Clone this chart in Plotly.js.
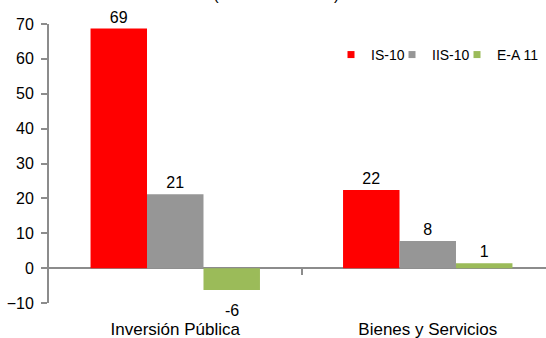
<!DOCTYPE html>
<html>
<head>
<meta charset="utf-8">
<script src="https://cdn.plot.ly/plotly-3.0.1.min.js"></script>
<style>html,body{margin:0;padding:0;background:#fff;}#chart{width:546px;height:338px;}</style>
</head>
<body>
<div id="chart"></div>
<script>
const categories = ["Inversión Pública", "Bienes y Servicios"];
const seriesNames = ["IS-10", "IIS-10", "E-A 11"];
const valuesIS10 = [68.7, 22.4];
const valuesIIS10 = [21.2, 7.8];
const valuesEA11 = [-6.3, 1.4];
const yTickValues = [-10, 0, 10, 20, 30, 40, 50, 60, 70];
const titleText = "(Variación % real)";

const colors = ["#FF0000", "#969696", "#9BBB59"];
const seriesValues = [valuesIS10, valuesIIS10, valuesEA11];
const font = "Liberation Sans, Arial, sans-serif";

const plotLeft = 49, plotWidth = 546 - 49;
const legendLeft = [331, 392, 457];
const legendNames = ["legend", "legend2", "legend3"];
const bargap = 0.329;
const barFrac = (1 - bargap) / seriesValues.length;

const traces = [];
const annotations = [];
seriesValues.forEach((vals, i) => {
  traces.push({
    type: "bar", x: categories, y: vals, name: seriesNames[i],
    marker: {color: colors[i]}, showlegend: false,
    texttemplate: vals.map(v => v < 0 ? "" : "%{y:.0f}"),
    textposition: "outside", cliponaxis: false,
    textfont: {family: font, size: 16, color: "#000"}
  });
  vals.forEach((v, j) => {
    if (v < 0) {
      annotations.push({
        xref: "x", yref: "y", x: j + (i - (seriesValues.length - 1) / 2) * barFrac, y: v,
        text: String(Math.round(v)), showarrow: false, xanchor: "center", yanchor: "top", yshift: -10,
        font: {family: font, size: 16, color: "#000"}
      });
    }
  });
});
seriesValues.forEach((vals, i) => {
  traces.push({
    type: "scatter", mode: "markers", x: [null], y: [null], name: seriesNames[i],
    marker: {symbol: "square", size: 7, color: colors[i]},
    legend: legendNames[i], showlegend: true, hoverinfo: "skip"
  });
});
traces.push({type: "scatter", mode: "none", x: [null], y: [null], xaxis: "x2", showlegend: false, hoverinfo: "skip"});

const catWidth = 252.5;
const xMax = -0.5 + plotWidth / catWidth;
const boundaryTicks = categories.slice(1).map((c, i) => i + 0.5);

const layout = {
  width: 546, height: 338,
  margin: {l: 49, r: 0, t: 24, b: 35},
  paper_bgcolor: "#fff", plot_bgcolor: "#fff",
  font: {family: font, size: 16, color: "#000"},
  title: {text: titleText, font: {family: font, size: 16, color: "#000"}, x: 0.506, xanchor: "center", yref: "container", y: 1, yanchor: "bottom"},
  barmode: "group", bargap: bargap, bargroupgap: 0,
  annotations: annotations,
  xaxis: {
    type: "category", range: [-0.5, xMax], showline: false, showgrid: false, zeroline: false,
    ticks: "", ticklabelstandoff: 14, tickfont: {family: font, size: 17, color: "#000"}, fixedrange: true
  },
  xaxis2: {
    overlaying: "x", anchor: "free", position: 10 / 80, range: [-0.5, xMax],
    tickmode: "array", tickvals: boundaryTicks, showticklabels: false,
    ticks: "outside", ticklen: 6, tickwidth: 2, tickcolor: "#8c8c8c",
    showline: false, showgrid: false, zeroline: false
  },
  yaxis: {
    range: [-10, 70], tickmode: "array", tickvals: yTickValues,
    showline: true, linecolor: "#8c8c8c", linewidth: 2,
    ticks: "outside", ticklen: 6, tickwidth: 2, tickcolor: "#8c8c8c",
    zeroline: true, zerolinecolor: "#8c8c8c", zerolinewidth: 2,
    showgrid: false, ticklabelstandoff: 4,
    tickfont: {family: font, size: 16, color: "#000"}
  },
  showlegend: true
};
legendNames.forEach((ln, i) => {
  layout[ln] = {
    orientation: "h", x: (legendLeft[i] - plotLeft) / plotWidth, xanchor: "left",
    y: (303.3 - 55) / 279.3, yanchor: "middle", bgcolor: "rgba(0,0,0,0)", borderwidth: 0,
    font: {family: font, size: 14, color: "#000"}
  };
});

Plotly.newPlot("chart", traces, layout, {displayModeBar: false, staticPlot: true});
</script>
</body>
</html>
